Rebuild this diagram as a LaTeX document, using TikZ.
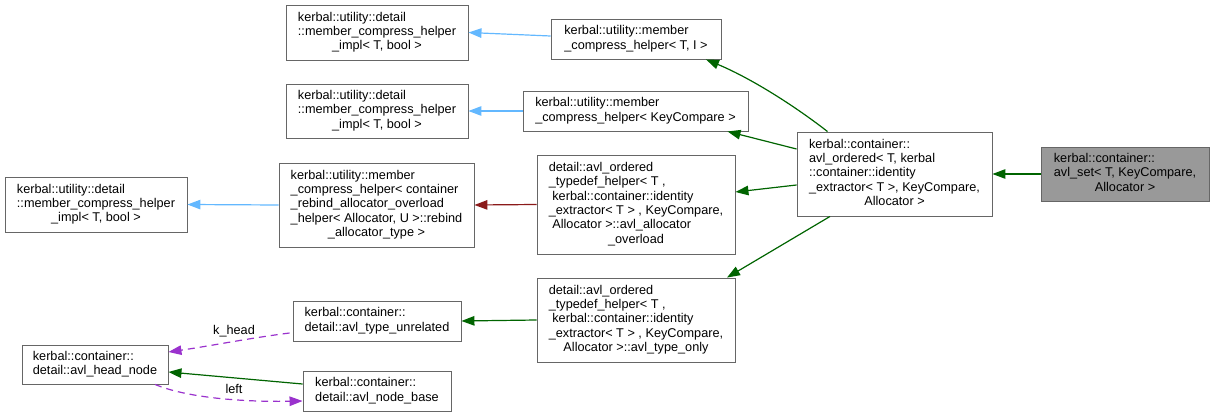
\documentclass[tikz,border=0pt]{standalone}
\usepackage{fontspec}
\setmainfont{Liberation Sans}
\usetikzlibrary{arrows.meta}
\definecolor{boxline}{HTML}{666666}
\definecolor{bluearr}{HTML}{63B8FF}
\definecolor{redarr}{HTML}{8B1A1A}
\definecolor{greenarr}{HTML}{006400}
\definecolor{purplearr}{HTML}{9A32CD}
\definecolor{setfill}{HTML}{999999}
\newcommand{\lastline}[1]{\multicolumn{1}{@{}c@{}}{#1}}
\begin{document}
\begin{tikzpicture}[x=1pt,y=-1pt,
  every node/.style={font=\fontsize{12.7}{14.3}\selectfont},
  cls/.style={draw=boxline, line width=0.9pt, fill=white, rectangle, inner sep=0pt},
  curcls/.style={cls, fill=setfill},
  edge/.style={line width=1.2pt, -{Triangle[length=13pt,width=9.5pt]}},
  pub/.style={edge, draw=greenarr},
  tmpl/.style={edge, draw=bluearr},
  priv/.style={edge, draw=redarr},
  usage/.style={edge, draw=purplearr, dash pattern=on 7pt off 5pt},
  lbl/.style={inner sep=0pt}
]
\useasboundingbox (0,0) rectangle (1215,417);

\newcommand{\tb}[1]{\begin{tabular}{@{}l@{}}#1\end{tabular}}

\node[cls, minimum width=182pt, minimum height=55pt] (A1) at (377,32.5)
  {\tb{kerbal::utility::detail\\::member\_compress\_helper\\\lastline{\_impl< T, bool >}}};
\node[cls, minimum width=182pt, minimum height=54pt] (A2) at (377,111)
  {\tb{kerbal::utility::detail\\::member\_compress\_helper\\\lastline{\_impl< T, bool >}}};
\node[cls, minimum width=182pt, minimum height=55pt] (A3) at (96,204.5)
  {\tb{kerbal::utility::detail\\::member\_compress\_helper\\\lastline{\_impl< T, bool >}}};

\node[cls, minimum width=170pt, minimum height=40pt] (B1) at (636,39)
  {\tb{kerbal::utility::member\\\_compress\_helper< T, I >}};
\node[cls, minimum width=225pt, minimum height=40pt] (B2) at (635.5,111)
  {\tb{kerbal::utility::member\\\_compress\_helper< KeyCompare >}};
\node[cls, minimum width=195pt, minimum height=84pt] (B3) at (376.5,205)
  {\tb{kerbal::utility::member\\\_compress\_helper< container\\\_rebind\_allocator\_overload\\\_helper< Allocator, U >::rebind\\\lastline{\_allocator\_type >}}};

\node[cls, minimum width=198pt, minimum height=99pt] (C1) at (636,204.5)
  {\tb{detail::avl\_ordered\\\_typedef\_helper< T ,\\\ kerbal::container::identity\\\_extractor< T > , KeyCompare,\\\ Allocator >::avl\_allocator\\\lastline{\_overload}}};
\node[cls, minimum width=198pt, minimum height=84pt] (C2) at (636,320)
  {\tb{detail::avl\_ordered\\\_typedef\_helper< T ,\\\ kerbal::container::identity\\\_extractor< T > , KeyCompare,\\\lastline{Allocator >::avl\_type\_only}}};

\node[cls, minimum width=195pt, minimum height=84pt] (D) at (894.5,174)
  {\tb{kerbal::container::\\avl\_ordered< T, kerbal\\::container::identity\\\_extractor< T >, KeyCompare,\\\lastline{Allocator >}}};
\node[curcls, minimum width=168pt, minimum height=54pt] (E) at (1125,174)
  {\tb{kerbal::container::\\avl\_set< T, KeyCompare,\\\lastline{Allocator >}}};

\node[cls, minimum width=168pt, minimum height=40pt] (F) at (377,321)
  {\tb{kerbal::container::\\detail::avl\_type\_unrelated}};
\node[cls, minimum width=146pt, minimum height=39pt] (G) at (95,364.5)
  {\tb{kerbal::container::\\detail::avl\_head\_node}};
\node[cls, minimum width=148pt, minimum height=40pt] (H) at (377,391)
  {\tb{kerbal::container::\\detail::avl\_node\_base}};

% edges
\draw[tmpl] ([yshift=3pt]B1.west) -- (A1.east);
\draw[tmpl] (B2.west) -- (A2.east);
\draw[tmpl] (B3.west) -- (A3.east);
\draw[priv] (C1.west) -- (B3.east);
\draw[pub] (E.west) -- (D.east);
\draw[pub] ([xshift=-67pt]D.north) .. controls (800,110) and (755,80) .. ([xshift=70pt]B1.south);
\draw[pub] ([yshift=25pt]D.west) -- ([xshift=92pt]B2.south);
\draw[pub] ([yshift=-11pt]D.west) -- ([yshift=12.5pt]C1.east);
\draw[pub] ([xshift=-64.5pt]D.south) -- ([xshift=91pt]C2.north);
\draw[pub] (C2.west) -- (F.east);
\draw[usage] ([xshift=-3pt,yshift=-12pt]F.west) .. controls (250,338) and (210,346) .. ([yshift=12.5pt]G.east);
\node[lbl] (khead) at (234,331) {k\_head};
\draw[pub] ([yshift=7pt]H.west) -- ([yshift=-7.5pt]G.east);
\draw[usage] ([xshift=60pt]G.south) .. controls (190,399) and (250,402) .. ([yshift=-10pt]H.west);
\node[lbl] (lleft) at (234,389) {left};
\end{tikzpicture}
\end{document}
